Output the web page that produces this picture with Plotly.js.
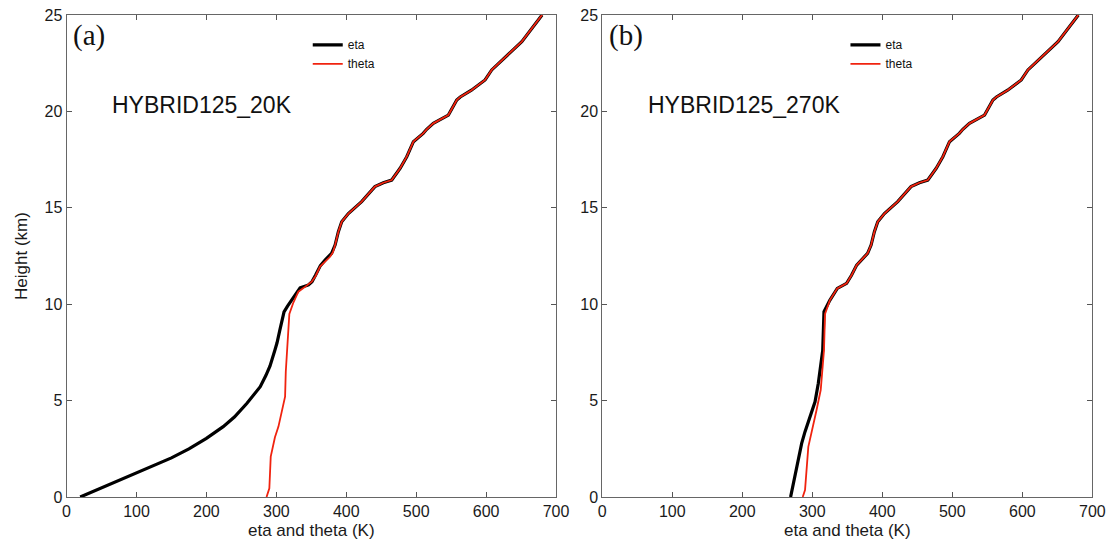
<!DOCTYPE html>
<html>
<head>
<meta charset="utf-8">
<script src="https://cdn.plot.ly/plotly-3.0.1.min.js"></script>
<style>html,body{margin:0;padding:0;background:#fff;}#chart{width:1111px;height:541px;}</style>
</head>
<body>
<div id="chart"></div>
<script>
// Shared upper-troposphere / stratosphere profile (K, km)
var upperTheta = [384, 388.7, 393.5, 403, 422, 441, 453, 465, 477, 486.5, 496, 510, 515, 524.5, 546, 558, 563, 579, 598.5, 608, 651, 680];
var upperHeight = [13.07, 13.76, 14.28, 14.7, 15.32, 16.1, 16.3, 16.44, 17.05, 17.65, 18.43, 18.86, 19.07, 19.38, 19.81, 20.59, 20.75, 21.1, 21.63, 22.15, 23.62, 25.0];

// Panel (a) HYBRID125_20K
var etaA_x = [19.5, 40, 60, 80, 100, 125, 150, 175, 200, 224, 240, 258, 268, 277, 285, 291, 298, 301, 305, 308, 311, 316, 320, 326, 334, 346, 351, 356, 363, 370, 379];
var etaA_h = [0, 0.32, 0.62, 0.93, 1.23, 1.62, 2.03, 2.5, 3.04, 3.65, 4.15, 4.86, 5.3, 5.72, 6.3, 6.8, 7.62, 8.0, 8.66, 9.1, 9.6, 9.9, 10.1, 10.45, 10.85, 11.0, 11.17, 11.5, 12.0, 12.3, 12.64];
var thetaA_x = [286, 290, 292, 295, 298, 303, 308, 312.5, 313.5, 314, 317, 318.6, 324, 331.5, 341, 350.6, 356, 362.5, 376.8, 381];
var thetaA_h = [0, 0.45, 2.1, 2.7, 3.1, 3.65, 4.5, 5.2, 6.5, 6.76, 8.5, 9.5, 10.05, 10.65, 10.9, 11.17, 11.45, 11.95, 12.46, 12.7];

// Panel (b) HYBRID125_270K
var etaB_x = [269, 275, 282.4, 284.8, 289.6, 303.9, 308.6, 312, 314.9, 316.7, 325, 335.7, 349, 356, 363.4, 379];
var etaB_h = [0, 1.05, 2.44, 2.78, 3.39, 4.94, 5.9, 6.76, 7.62, 9.61, 10.2, 10.82, 11.08, 11.5, 12.03, 12.64];
var thetaB_x = [286.3, 289.6, 294.3, 296.7, 306, 312, 314.9, 316.7, 318.2, 325, 335.7, 349, 356, 363.4, 379];
var thetaB_h = [0, 0.36, 2.6, 2.96, 4.5, 5.55, 6.76, 7.62, 9.5, 10.2, 10.82, 11.08, 11.5, 12.03, 12.64];

var xTicks = [0, 100, 200, 300, 400, 500, 600, 700];
var yTicks = [0, 5, 10, 15, 20, 25];

var seriesNames = ['eta', 'theta'];
var panelLabels = ['(a)', '(b)'];
var caseLabels = ['HYBRID125_20K', 'HYBRID125_270K'];

var black = '#000000', red = '#f0230f';

function full(x, h) { return {x: x.concat(upperTheta), y: h.concat(upperHeight)}; }

var a1 = full(etaA_x, etaA_h), a2 = full(thetaA_x, thetaA_h);
var b1 = full(etaB_x, etaB_h), b2 = full(thetaB_x, thetaB_h);

var traces = [
  {x: a1.x, y: a1.y, name: seriesNames[0], mode: 'lines', line: {color: black, width: 3.2}, xaxis: 'x', yaxis: 'y', legend: 'legend'},
  {x: a2.x, y: a2.y, name: seriesNames[1], mode: 'lines', line: {color: red, width: 1.8}, xaxis: 'x', yaxis: 'y', legend: 'legend'},
  {x: b1.x, y: b1.y, name: seriesNames[0], mode: 'lines', line: {color: black, width: 3.2}, xaxis: 'x2', yaxis: 'y2', legend: 'legend2'},
  {x: b2.x, y: b2.y, name: seriesNames[1], mode: 'lines', line: {color: red, width: 1.8}, xaxis: 'x2', yaxis: 'y2', legend: 'legend2'}
];

var tickFont = {family: 'Liberation Sans, Arial, sans-serif', size: 16, color: '#1a1a1a'};
var titleFont = {family: 'Liberation Sans, Arial, sans-serif', size: 17, color: '#1a1a1a'};
function xax(dom) {
  return {domain: dom, range: [0, 700], tickvals: xTicks, ticktext: xTicks.map(String), ticks: 'inside', ticklen: 5,
    tickcolor: '#555', showline: true, linecolor: '#666', linewidth: 1, mirror: 'ticks', showgrid: false, zeroline: false,
    tickfont: tickFont, title: {text: 'eta and theta (K)', font: titleFont, standoff: 4}, fixedrange: true};
}
function yax(anchor, withTitle) {
  var o = {domain: [0.0813, 0.9723], range: [0, 25], tickvals: yTicks, ticktext: yTicks.map(String), ticks: 'inside', ticklen: 5,
    tickcolor: '#555', showline: true, linecolor: '#666', linewidth: 1, mirror: 'ticks', showgrid: false, zeroline: false,
    tickfont: tickFont, anchor: anchor, fixedrange: true};
  if (withTitle) o.title = {text: 'Height (km)', font: titleFont, standoff: 12};
  return o;
}

var legFont = {family: 'Liberation Sans, Arial, sans-serif', size: 12, color: '#111'};
var layout = {
  width: 1111, height: 541,
  margin: {l: 0, r: 0, t: 0, b: 0},
  paper_bgcolor: '#fff', plot_bgcolor: '#fff',
  xaxis: xax([0.0599, 0.5005]),
  yaxis: yax('x', true),
  xaxis2: Object.assign(xax([0.5421, 0.9832]), {anchor: 'y2'}),
  yaxis2: yax('x2', false),
  showlegend: true,
  legend: {x: 0.277, y: 0.944, xanchor: 'left', yanchor: 'top', bgcolor: 'rgba(0,0,0,0)', font: legFont, tracegroupgap: 0},
  legend2: {x: 0.761, y: 0.944, xanchor: 'left', yanchor: 'top', bgcolor: 'rgba(0,0,0,0)', font: legFont, tracegroupgap: 0},
  annotations: [
    {xref: 'x domain', yref: 'y domain', x: 0.01, y: 0.957, xanchor: 'left', yanchor: 'middle', showarrow: false, text: panelLabels[0], font: {family: 'Liberation Serif, Times New Roman, serif', size: 29, color: '#111'}},
    {xref: 'x domain', yref: 'y domain', x: 0.089, y: 0.813, xanchor: 'left', yanchor: 'middle', showarrow: false, text: caseLabels[0], font: {family: 'Liberation Sans, Arial, sans-serif', size: 23, color: '#111'}},
    {xref: 'x2 domain', yref: 'y2 domain', x: 0.01, y: 0.957, xanchor: 'left', yanchor: 'middle', showarrow: false, text: panelLabels[1], font: {family: 'Liberation Serif, Times New Roman, serif', size: 29, color: '#111'}},
    {xref: 'x2 domain', yref: 'y2 domain', x: 0.089, y: 0.813, xanchor: 'left', yanchor: 'middle', showarrow: false, text: caseLabels[1], font: {family: 'Liberation Sans, Arial, sans-serif', size: 23, color: '#111'}}
  ]
};

Plotly.newPlot('chart', traces, layout, {displayModeBar: false, staticPlot: true});
</script>
</body>
</html>
